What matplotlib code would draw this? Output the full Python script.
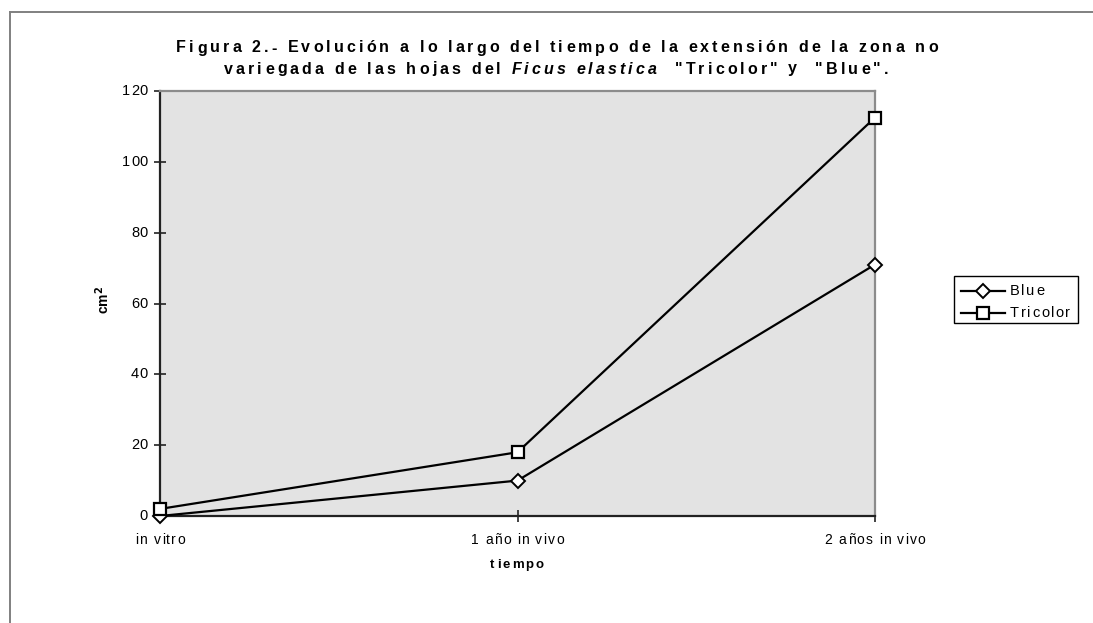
import matplotlib
matplotlib.use("Agg")
import matplotlib.pyplot as plt
from matplotlib.font_manager import FontProperties
from matplotlib.lines import Line2D
from matplotlib.patches import Rectangle

categories = ["in vitro", "1 año in vivo", "2 años in vivo"]
blue = [0.0, 10.0, 71.0]
tricolor = [2.0, 18.0, 112.5]
yticks = [0, 20, 40, 60, 80, 100, 120]
series_names = ["Blue", "Tricolor"]

W, H = 1093, 623
fig = plt.figure(figsize=(W / 100, H / 100), dpi=100)
fig.patch.set_facecolor("white")

FAM = "Liberation Sans"

# outer frame of the chart area (top and left edges)
fig.add_artist(Line2D([9.5 / W, 9.5 / W], [0, 1 - 11.5 / H], transform=fig.transFigure,
                      color="#808080", lw=1.4))
fig.add_artist(Line2D([9.5 / W, 1], [1 - 11.5 / H, 1 - 11.5 / H], transform=fig.transFigure,
                      color="#808080", lw=1.4))

L, R, T, B = 160, 875, 91, 516
ax = fig.add_axes([L / W, 1 - B / H, (R - L) / W, (B - T) / H])
ax.set_facecolor("#E3E3E3")

x = list(range(len(categories)))
blue_style = dict(color="black", lw=1.6, marker="D", ms=7.5, mfc="white", mec="black", mew=1.4)
tri_style = dict(color="black", lw=1.6, marker="s", ms=8.5, mfc="white", mec="black", mew=1.6)
ax.plot(x, blue, label=series_names[0], clip_on=False, zorder=3, **blue_style)
ax.plot(x, tricolor, label=series_names[1], clip_on=False, zorder=3, **tri_style)

ax.set_xlim(0, 2)
ax.set_ylim(0, 120)
ax.set_yticks(yticks)
ax.set_xticks(x)
ax.set_xticklabels([])
ax.set_yticklabels([])
ax.tick_params(axis="y", direction="inout", length=8, width=1.2, colors="#222222")
ax.tick_params(axis="x", direction="inout", length=8, width=1.2, colors="#222222")

for side in ("left", "bottom"):
    ax.spines[side].set_color("#222222")
    ax.spines[side].set_linewidth(1.6)
for side in ("top", "right"):
    ax.spines[side].set_color("#8c8c8c")
    ax.spines[side].set_linewidth(1.6)

renderer = fig.canvas.get_renderer()


def char_width(c, prop):
    w1, _, _ = renderer.get_text_width_height_descent("x" + c + "x", prop, ismath=False)
    w0, _, _ = renderer.get_text_width_height_descent("xx", prop, ismath=False)
    return w1 - w0


def tracked_text(px_x, px_y, segments, size, track, weight="normal", ha="center"):
    """Letter-spaced text anchored at display pixel (px_x, px_y), origin bottom-left."""
    chars = []
    for s, style in segments:
        prop = FontProperties(family=FAM, weight=weight, style=style, size=size)
        for c in s:
            chars.append((c, prop, char_width(c, prop)))
    total = sum(w for _, _, w in chars) + track * (len(chars) - 1)
    if ha == "center":
        px = px_x - total / 2
    elif ha == "right":
        px = px_x - total
    else:
        px = px_x
    for c, prop, w in chars:
        if c != " ":
            fig.text(px / W, px_y / H, c, fontproperties=prop, ha="left", va="center")
        px += w + track


# title
tracked_text(557, H - 48, [("Figura 2.- Evolución a lo largo del tiempo de la extensión de la zona no", "normal")],
             11.5, 3.1, weight="bold")
tracked_text(556, H - 69, [("variegada de las hojas del ", "normal"), ("Ficus elastica", "italic"),
                           ("  \"Tricolor\" y  \"Blue\".", "normal")], 11.5, 3.1, weight="bold")

# tick labels
for xi, lab in zip(x, categories):
    dx, dy = ax.transData.transform((xi, 0))
    tracked_text(dx, dy - 24, [(lab, "normal")], 10, 1.2)
for yv in yticks:
    dx, dy = ax.transData.transform((0, yv))
    tracked_text(dx - 12, dy, [(str(yv), "normal")], 10.5, 0.6, ha="right")

# axis titles
tracked_text(517, H - 565, [("tiempo", "normal")], 9.5, 2.0, weight="bold")
fig.text(103 / W, 1 - 300 / H, "cm$^{\\mathbf{2}}$", rotation=90, ha="center", va="center",
         fontsize=10, fontweight="bold", family=FAM)

# legend box with sample lines
fig.add_artist(Rectangle((954 / W, 1 - 323 / H), (1078 - 954) / W, (323 - 276) / H,
                         transform=fig.transFigure, facecolor="white", edgecolor="black", lw=1.0))
for name, style, ypix in zip(series_names, [blue_style, tri_style], [291, 313]):
    yy = 1 - ypix / H
    fig.add_artist(Line2D([961 / W, 1005 / W], [yy, yy], transform=fig.transFigure,
                          color="black", lw=1.6))
    fig.add_artist(Line2D([983 / W], [yy], transform=fig.transFigure, ls="none",
                          marker=style["marker"], ms=style["ms"], mfc="white", mec="black",
                          mew=style["mew"]))
    tracked_text(1010, H - ypix, [(name, "normal")], 10.5, 1.6, ha="left")

fig.savefig("out.png", dpi=100, facecolor="white")
